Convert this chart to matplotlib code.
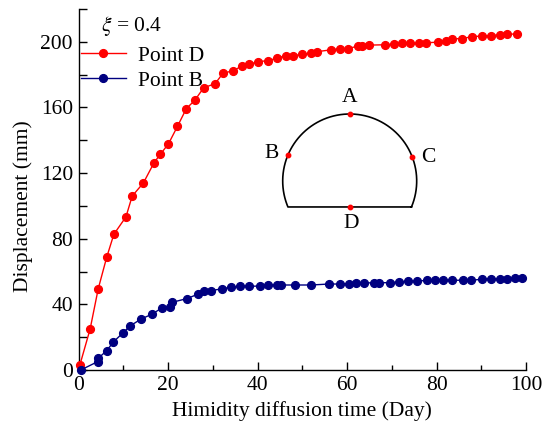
import numpy as np
import matplotlib
matplotlib.use("Agg")
import matplotlib.pyplot as plt
from matplotlib.ticker import MultipleLocator, FuncFormatter

plt.rcParams['font.family'] = ['Liberation Serif', 'DejaVu Serif']
plt.rcParams['mathtext.fontset'] = 'stix'

# ---- data ----
t_D = [0.3, 2.6, 4.4, 6.3, 7.9, 10.6, 12.0, 14.5, 16.9, 18.3, 20.1, 22.1, 24.1, 26.0,
       28.0, 30.5, 32.3, 34.5, 36.5, 38.0, 40.0, 42.4, 44.4, 46.3, 48.0, 50.0, 52.0,
       53.3, 56.4, 58.5, 60.3, 62.4, 63.4, 65.0, 68.6, 70.4, 72.4, 74.1, 76.0, 77.7,
       80.3, 82.1, 83.4, 85.8, 88.0, 90.1, 92.2, 94.2, 95.7, 98.1]
v_D = [3, 25, 49.4, 68.7, 82.7, 93.3, 106, 114, 126.4, 131.5, 137.8, 148.4, 159.3, 164.4,
       172.1, 174.4, 180.9, 182.3, 185.2, 186.2, 187.8, 188.6, 190.0, 191.6, 191.6, 192.3,
       193.3, 194.0, 195.1, 195.9, 195.9, 197.4, 197.6, 198.0, 198.2, 198.6, 199.0, 199.0,
       199.0, 199.4, 199.8, 200.4, 201.8, 202.0, 203.2, 203.5, 203.8, 204.3, 204.5, 204.9]

t_B = [0.5, 4.3, 4.4, 6.3, 7.8, 10.0, 11.5, 14.0, 16.5, 18.7, 20.4, 21.0, 24.2, 26.6,
       28.0, 29.5, 32.0, 34.0, 36.2, 38.2, 40.6, 42.3, 44.4, 45.3, 48.4, 52.0, 56.0,
       58.4, 60.4, 61.9, 63.9, 66.0, 67.2, 69.5, 71.6, 73.7, 75.7, 77.8, 79.6, 81.5,
       83.5, 86.0, 87.8, 90.1, 92.1, 94.1, 95.7, 97.6, 99.1]
v_B = [0, 5.1, 7.1, 11.8, 17.1, 22.8, 26.8, 31.1, 34.1, 38.0, 38.2, 41.3, 43.5, 46.1,
       48.2, 48.4, 49.4, 50.5, 51.0, 51.0, 51.2, 51.8, 51.8, 51.8, 51.8, 51.8, 52.4,
       52.4, 52.6, 53.0, 53.0, 53.2, 53.2, 53.2, 53.7, 54.1, 54.1, 54.7, 54.7, 54.7,
       54.7, 54.7, 54.7, 55.3, 55.7, 55.5, 55.5, 55.9, 55.9]

labels = ["Point D", "Point B"]
colors = ["#ff0000", "#000080"]
legend_title = r"$\xi$ = 0.4"
xlabel = "Himidity diffusion time (Day)"
ylabel = "Displacement (mm)"

FS = 15.5
W, H = 550, 440
fig = plt.figure(figsize=(W / 100, H / 100), dpi=100)
L, R, B, T = 78.5, 526, 370, 9
ax = fig.add_axes([L / W, 1 - B / H, (R - L) / W, (B - T) / H])

ax.plot(t_D, v_D, '-o', color=colors[0], lw=1.0, ms=5.6, label=labels[0], clip_on=False, zorder=3)
ax.plot(t_B, v_B, '-o', color=colors[1], lw=1.0, ms=5.6, label=labels[1], clip_on=False, zorder=4)

ax.set_xlim(0, 100)
ax.set_ylim(0, 220)
ax.spines['top'].set_visible(False)
ax.spines['right'].set_visible(False)
for s in ('left', 'bottom'):
    ax.spines[s].set_linewidth(1.0)

ax.xaxis.set_major_locator(MultipleLocator(20))
ax.xaxis.set_minor_locator(MultipleLocator(10))
ax.yaxis.set_major_locator(MultipleLocator(20))
ax.yaxis.set_major_formatter(FuncFormatter(lambda v, p: f"{int(round(v))}" if round(v) % 40 == 0 and v < 219 else ""))
ax.tick_params(axis='both', which='major', direction='in', length=6, width=1.0, labelsize=FS, pad=4)
ax.tick_params(axis='x', which='minor', direction='in', length=3.5, width=1.0)

ax.set_xlabel(xlabel, fontsize=FS, labelpad=5)
ax.set_ylabel(ylabel, fontsize=FS)
ax.yaxis.set_label_coords(-0.102, 100 / 220)

leg = ax.legend(loc='upper left', bbox_to_anchor=(0.0, 0.905), frameon=False, fontsize=FS,
                handlelength=2.1, handletextpad=0.55, labelspacing=0.25, borderaxespad=0.0,
                borderpad=0.1)

# overlay in pixel coordinates for title text and tunnel diagram
ov = fig.add_axes([0, 0, 1, 1])
ov.set_xlim(0, W)
ov.set_ylim(H, 0)
ov.axis('off')
ov.patch.set_alpha(0)

ov.text(101, 26, legend_title, fontsize=FS, ha='left', va='center')

cx, cy, r = 349.7, 181.0, 67.0
a0 = np.deg2rad(-22.8)
th = np.linspace(a0, np.pi - a0, 300)
xs = cx + r * np.cos(th)
ys = cy - r * np.sin(th)
xs = np.append(xs, xs[0])
ys = np.append(ys, ys[0])
ov.plot(xs, ys, color='black', lw=1.2)

pts = {"A": 90.0, "B": 156.8, "C": 20.8}
for name, ang in pts.items():
    a = np.deg2rad(ang)
    ov.plot(cx + r * np.cos(a), cy - r * np.sin(a), 'o', color='red', ms=3.2)
ov.plot(cx, cy + r * np.sin(-a0), 'o', color='red', ms=3.2)

ov.text(350, 98, "A", fontsize=FS, ha='center', va='center')
ov.text(272, 154, "B", fontsize=FS, ha='center', va='center')
ov.text(428, 157, "C", fontsize=FS, ha='center', va='center')
ov.text(351, 224, "D", fontsize=FS, ha='center', va='center')

fig.savefig("out.png", dpi=100)
